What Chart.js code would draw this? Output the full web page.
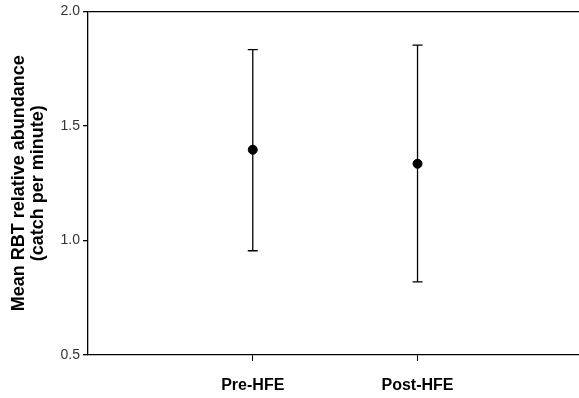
<!DOCTYPE html>
<html>
<head>
<meta charset="utf-8">
<script src="https://cdn.jsdelivr.net/npm/chart.js@4"></script>
<style>
  html, body { margin: 0; padding: 0; background: #fff; }
  #wrap { width: 579px; height: 398px; }
</style>
</head>
<body>
<div id="wrap"><canvas id="chart"></canvas></div>
<script>
// Datos
const categories = ['Pre-HFE', 'Post-HFE'];
const means = [1.396, 1.335];
const upperErr = [1.833, 1.853];
const lowerErr = [0.955, 0.819];
const yTicks = [0.5, 1.0, 1.5, 2.0];

const points = categories.map((c, i) => ({ x: i + 1, y: means[i] }));

// Barras de error dibujadas con las escalas del grafico
const errorBars = {
    id: 'errorBars',
    beforeDatasetsDraw(chart) {
        const { ctx, scales: { x, y } } = chart;
        ctx.save();
        ctx.strokeStyle = '#000';
        ctx.lineWidth = 1.3;
        categories.forEach((c, i) => {
            const px = x.getPixelForValue(i + 1);
            const top = y.getPixelForValue(upperErr[i]);
            const bot = y.getPixelForValue(lowerErr[i]);
            ctx.beginPath();
            ctx.moveTo(px, top); ctx.lineTo(px, bot);
            ctx.moveTo(px - 5, top); ctx.lineTo(px + 5, top);
            ctx.moveTo(px - 5, bot); ctx.lineTo(px + 5, bot);
            ctx.stroke();
        });
        ctx.restore();
    }
};

const ctx = document.getElementById('chart').getContext('2d');
new Chart(ctx, {
    type: 'scatter',
    data: {
        datasets: [{
            data: points,
            backgroundColor: '#000',
            borderColor: '#000',
            pointRadius: 4.5,
            pointHoverRadius: 4.5
        }]
    },
    plugins: [errorBars],
    options: {
        responsive: true,
        maintainAspectRatio: false,
        animation: false,
        layout: { autoPadding: false, padding: { top: 10, right: 0, left: 0, bottom: 0 } },
        plugins: { legend: { display: false }, tooltip: { enabled: false } },
        scales: {
            x: {
                type: 'linear',
                min: 0,
                max: 2.98,
                afterBuildTicks: (s) => { s.ticks = categories.map((c, i) => ({ value: i + 1 })); },
                afterFit: (s) => { s.height = 43; },
                border: { display: true, color: '#000', width: 1.3 },
                grid: { display: true, drawOnChartArea: false, color: '#000', tickLength: 6 },
                ticks: {
                    color: '#000',
                    padding: 15,
                    font: { family: 'Liberation Sans', size: 16, weight: 'bold' },
                    callback: (v) => categories[v - 1]
                }
            },
            y: {
                min: 0.5,
                max: 2.0,
                afterBuildTicks: (s) => { s.ticks = yTicks.map(v => ({ value: v })); },
                afterFit: (s) => { s.width = 88; },
                border: { display: true, color: '#000', width: 1.3 },
                grid: {
                    drawOnChartArea: true,
                    color: (c) => (c.tick && c.tick.value === 2.0 ? '#000' : 'rgba(0,0,0,0)'),
                    tickColor: '#000',
                    lineWidth: 1.3,
                    tickLength: 5
                },
                ticks: {
                    color: '#333',
                    padding: 3,
                    font: { family: 'Liberation Sans', size: 14 },
                    callback: (v) => v.toFixed(1)
                },
                title: {
                    display: true,
                    text: ['Mean RBT relative abundance', '(catch per minute)'],
                    color: '#000',
                    padding: { top: 10, bottom: 6 },
                    font: { family: 'Liberation Sans', size: 18, weight: 'bold', lineHeight: 1.05 }
                }
            }
        }
    }
});
</script>
</body>
</html>
